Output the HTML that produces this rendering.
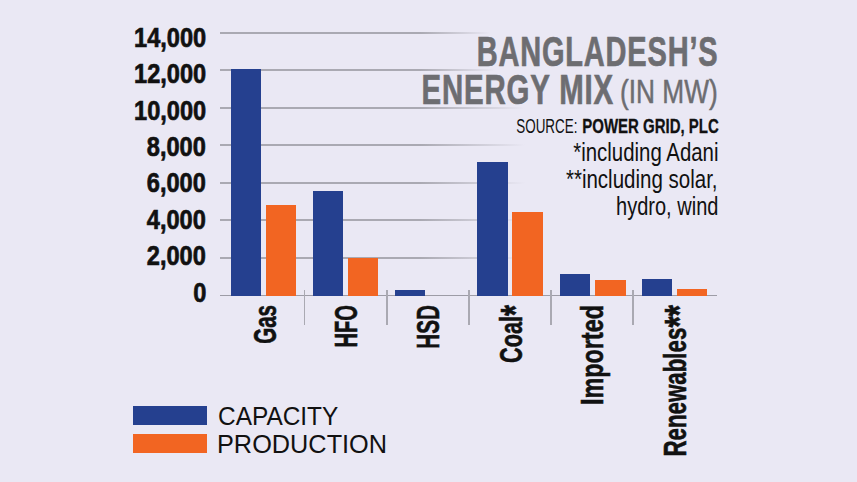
<!DOCTYPE html>
<html><head><meta charset="utf-8"><style>
html,body{margin:0;padding:0;}
body{width:857px;height:482px;background:#eae8f4;position:relative;overflow:hidden;font-family:"Liberation Sans",sans-serif;}
.a{position:absolute;}
.g{position:absolute;left:220px;height:2px;background:linear-gradient(to right,#aaa9b2 0%,#aaa9b2 70%,rgba(170,169,178,0) 100%);}
.t{position:absolute;white-space:nowrap;line-height:1;}
.xl{position:absolute;width:0;height:0;}
.xl i{font-style:normal;font-size:1.3em;line-height:0;position:relative;top:0.17em;}
.xl span{position:absolute;right:0;bottom:0;white-space:nowrap;line-height:1;font-size:31px;font-weight:bold;color:#111111;transform-origin:100% 100%;-webkit-text-stroke:0.6px #111111;}
</style></head><body>
<div class="g" style="top:32.0px;width:270px;background:linear-gradient(to right,#aaa9b2 74.1%,rgba(170,169,178,0) 100%)"></div>
<div class="g" style="top:69.4px;width:275px;background:linear-gradient(to right,#aaa9b2 72.7%,rgba(170,169,178,0) 100%)"></div>
<div class="g" style="top:106.8px;width:305px;background:linear-gradient(to right,#aaa9b2 65.6%,rgba(170,169,178,0) 100%)"></div>
<div class="g" style="top:144.3px;width:305px;background:linear-gradient(to right,#aaa9b2 65.6%,rgba(170,169,178,0) 100%)"></div>
<div class="g" style="top:181.7px;width:305px;background:linear-gradient(to right,#aaa9b2 65.6%,rgba(170,169,178,0) 100%)"></div>
<div class="g" style="top:219.1px;width:305px;background:linear-gradient(to right,#aaa9b2 65.6%,rgba(170,169,178,0) 100%)"></div>
<div class="g" style="top:256.6px;width:305px;background:linear-gradient(to right,#aaa9b2 65.6%,rgba(170,169,178,0) 100%)"></div>
<div class="a" style="left:220px;top:294.5px;width:497px;height:1.5px;background:#9d9ca6"></div>
<div class="a" style="left:303.85px;top:290.3px;width:1.5px;height:35px;background:#aaa9b2"></div>
<div class="a" style="left:386.25px;top:290.3px;width:1.5px;height:35px;background:#aaa9b2"></div>
<div class="a" style="left:468.25px;top:290.3px;width:1.5px;height:35px;background:#aaa9b2"></div>
<div class="a" style="left:550.25px;top:290.3px;width:1.5px;height:35px;background:#aaa9b2"></div>
<div class="a" style="left:632.25px;top:290.3px;width:1.5px;height:35px;background:#aaa9b2"></div>
<div class="a" style="left:231.0px;top:69.2px;width:30.3px;height:226.7px;background:#25408f"></div>
<div class="a" style="left:266.0px;top:204.9px;width:30.3px;height:91.0px;background:#f26522"></div>
<div class="a" style="left:312.7px;top:190.6px;width:30.3px;height:105.3px;background:#25408f"></div>
<div class="a" style="left:348.0px;top:257.7px;width:30.3px;height:38.2px;background:#f26522"></div>
<div class="a" style="left:395.0px;top:290.2px;width:30.3px;height:5.7px;background:#25408f"></div>
<div class="a" style="left:477.3px;top:162.4px;width:30.3px;height:133.5px;background:#25408f"></div>
<div class="a" style="left:512.4px;top:211.6px;width:30.3px;height:84.3px;background:#f26522"></div>
<div class="a" style="left:559.5px;top:273.7px;width:30.3px;height:22.2px;background:#25408f"></div>
<div class="a" style="left:595.4px;top:280.0px;width:30.3px;height:15.9px;background:#f26522"></div>
<div class="a" style="left:641.5px;top:278.8px;width:30.3px;height:17.1px;background:#25408f"></div>
<div class="a" style="left:677.0px;top:288.8px;width:30.3px;height:7.1px;background:#f26522"></div>
<div class="t" style="right:651.00px;top:23.62px;font-size:27.5px;font-weight:bold;color:#111111;transform-origin:100% 50%;transform:scaleX(0.8570);-webkit-text-stroke:0.7px #111111">14,000</div>
<div class="t" style="right:651.00px;top:60.08px;font-size:27.5px;font-weight:bold;color:#111111;transform-origin:100% 50%;transform:scaleX(0.8570);-webkit-text-stroke:0.7px #111111">12,000</div>
<div class="t" style="right:651.00px;top:96.54px;font-size:27.5px;font-weight:bold;color:#111111;transform-origin:100% 50%;transform:scaleX(0.8570);-webkit-text-stroke:0.7px #111111">10,000</div>
<div class="t" style="right:651.00px;top:133.00px;font-size:27.5px;font-weight:bold;color:#111111;transform-origin:100% 50%;transform:scaleX(0.8570);-webkit-text-stroke:0.7px #111111">8,000</div>
<div class="t" style="right:651.00px;top:169.46px;font-size:27.5px;font-weight:bold;color:#111111;transform-origin:100% 50%;transform:scaleX(0.8570);-webkit-text-stroke:0.7px #111111">6,000</div>
<div class="t" style="right:651.00px;top:205.92px;font-size:27.5px;font-weight:bold;color:#111111;transform-origin:100% 50%;transform:scaleX(0.8570);-webkit-text-stroke:0.7px #111111">4,000</div>
<div class="t" style="right:651.00px;top:242.38px;font-size:27.5px;font-weight:bold;color:#111111;transform-origin:100% 50%;transform:scaleX(0.8570);-webkit-text-stroke:0.7px #111111">2,000</div>
<div class="t" style="right:651.00px;top:278.84px;font-size:27.5px;font-weight:bold;color:#111111;transform-origin:100% 50%;transform:scaleX(0.8570);-webkit-text-stroke:0.7px #111111">0</div>
<div class="xl" style="left:280.6px;top:304.5px"><span style="transform:rotate(-90deg) scaleX(0.663)">Gas</span></div>
<div class="xl" style="left:362.2px;top:304.5px"><span style="transform:rotate(-90deg) scaleX(0.65)">HFO</span></div>
<div class="xl" style="left:444.3px;top:304.5px"><span style="transform:rotate(-90deg) scaleX(0.668)">HSD</span></div>
<div class="xl" style="left:526.9px;top:304.5px"><span style="transform:rotate(-90deg) scaleX(0.7)">Coal<i>*</i></span></div>
<div class="xl" style="left:607.8px;top:304.5px"><span style="transform:rotate(-90deg) scaleX(0.754)">Imported</span></div>
<div class="xl" style="left:690.8px;top:304.5px"><span style="transform:rotate(-90deg) scaleX(0.72)">Renewables<i>**</i></span></div>
<div class="a" style="left:133px;top:406px;width:73.5px;height:19px;background:#25408f"></div>
<div class="a" style="left:133px;top:434.2px;width:73.5px;height:19px;background:#f26522"></div>
<div class="t" style="left:217.50px;top:402.79px;font-size:26px;font-weight:normal;color:#111111;transform-origin:0 50%;transform:scaleX(0.9390);">CAPACITY</div>
<div class="t" style="left:217.00px;top:430.79px;font-size:26px;font-weight:normal;color:#111111;transform-origin:0 50%;transform:scaleX(0.9730);">PRODUCTION</div>
<div class="t" style="right:139.00px;top:30.65px;font-size:42px;font-weight:bold;color:#6d6d71;transform-origin:100% 50%;transform:scaleX(0.6900);letter-spacing:1.2px;-webkit-text-stroke:0.7px #6d6d71">BANGLADESH’S</div>
<div class="t" style="right:243.50px;top:69.25px;font-size:42px;font-weight:bold;color:#6d6d71;transform-origin:100% 50%;transform:scaleX(0.7000);letter-spacing:1.2px;-webkit-text-stroke:0.7px #6d6d71">ENERGY MIX</div>
<div class="t" style="right:139.00px;top:74.87px;font-size:33px;font-weight:normal;color:#6d6d71;transform-origin:100% 50%;transform:scaleX(0.7960);-webkit-text-stroke:0.5px #6d6d71">(IN MW)</div>
<div class="t" style="right:280.00px;top:115.75px;font-size:20.5px;font-weight:normal;color:#111111;transform-origin:100% 50%;transform:scaleX(0.6550);">SOURCE:</div>
<div class="t" style="right:138.50px;top:115.75px;font-size:20.5px;font-weight:bold;color:#111111;transform-origin:100% 50%;transform:scaleX(0.7310);-webkit-text-stroke:0.3px #111111">POWER GRID, PLC</div>
<div class="t" style="right:139.00px;top:139.51px;font-size:25.5px;font-weight:normal;color:#111111;transform-origin:100% 50%;transform:scaleX(0.8000);">*including Adani</div>
<div class="t" style="right:139.00px;top:166.61px;font-size:25.5px;font-weight:normal;color:#111111;transform-origin:100% 50%;transform:scaleX(0.8040);">**including solar,</div>
<div class="t" style="right:139.00px;top:194.31px;font-size:25.5px;font-weight:normal;color:#111111;transform-origin:100% 50%;transform:scaleX(0.7850);">hydro, wind</div>
</body></html>
